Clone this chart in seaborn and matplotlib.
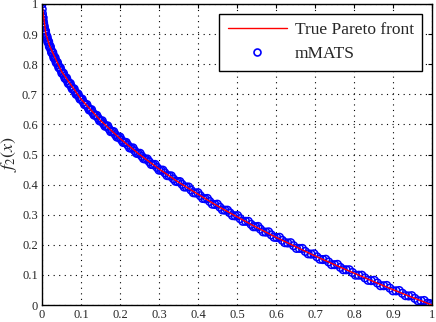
import numpy as np
import pandas as pd
import matplotlib
matplotlib.use("Agg")
import matplotlib.pyplot as plt
from matplotlib.lines import Line2D
import seaborn as sns

# ── Data ──────────────────────────────────────────────────────────
front_f1 = [0.00, 0.01, 0.02, 0.05, 0.10, 0.15, 0.20, 0.25, 0.30, 0.35, 0.40,
            0.45, 0.50, 0.55, 0.60, 0.65, 0.70, 0.75, 0.80, 0.85, 0.90, 0.95, 1.00]
front_f2 = [1.000, 0.900, 0.859, 0.776, 0.684, 0.613, 0.553, 0.500, 0.452, 0.408,
            0.368, 0.329, 0.293, 0.258, 0.225, 0.194, 0.163, 0.134, 0.106, 0.078,
            0.051, 0.025, 0.000]

# mMATS solutions (first batch, close to the front)
mmats_f1 = [0.000, 0.001, 0.002, 0.003, 0.004, 0.005, 0.006, 0.008, 0.010, 0.012,
            0.014, 0.016, 0.018, 0.020, 0.023, 0.026, 0.029, 0.032, 0.035, 0.038,
            0.041, 0.045, 0.049, 0.053, 0.057, 0.061, 0.065, 0.070, 0.075, 0.080,
            0.085, 0.090, 0.095, 0.100, 0.106, 0.112, 0.118, 0.124, 0.130, 0.137,
            0.144, 0.151, 0.158, 0.165, 0.172, 0.180, 0.188, 0.196, 0.204, 0.212,
            0.220, 0.229, 0.238, 0.247, 0.256, 0.265, 0.275, 0.285, 0.295, 0.305,
            0.315, 0.326, 0.337, 0.348, 0.359, 0.370, 0.382, 0.394, 0.406, 0.418,
            0.430, 0.443, 0.456, 0.469, 0.482, 0.495, 0.508, 0.522, 0.536, 0.548,
            0.560, 0.574, 0.588, 0.602, 0.616, 0.630, 0.645, 0.660, 0.675, 0.690,
            0.705, 0.720, 0.735, 0.750, 0.765, 0.780, 0.796, 0.812, 0.828, 0.844,
            0.860, 0.876, 0.892, 0.908, 0.924, 0.940, 0.956, 0.972, 0.988, 1.000]
mmats_f2 = [1.000, 0.968, 0.955, 0.945, 0.937, 0.929, 0.923, 0.911, 0.900, 0.890,
            0.882, 0.874, 0.866, 0.859, 0.848, 0.839, 0.830, 0.821, 0.813, 0.805,
            0.798, 0.788, 0.779, 0.770, 0.761, 0.753, 0.745, 0.735, 0.726, 0.717,
            0.708, 0.700, 0.692, 0.684, 0.674, 0.665, 0.656, 0.648, 0.639, 0.630,
            0.621, 0.611, 0.602, 0.594, 0.585, 0.576, 0.566, 0.557, 0.548, 0.540,
            0.531, 0.521, 0.512, 0.503, 0.494, 0.485, 0.476, 0.466, 0.457, 0.448,
            0.439, 0.429, 0.419, 0.410, 0.401, 0.392, 0.382, 0.372, 0.363, 0.353,
            0.344, 0.334, 0.325, 0.315, 0.306, 0.296, 0.287, 0.278, 0.268, 0.260,
            0.252, 0.242, 0.233, 0.224, 0.215, 0.206, 0.197, 0.188, 0.178, 0.169,
            0.160, 0.151, 0.143, 0.134, 0.125, 0.117, 0.108, 0.099, 0.090, 0.081,
            0.073, 0.064, 0.056, 0.047, 0.039, 0.030, 0.022, 0.014, 0.006, 0.000]

# mMATS solutions (second batch, slightly scattered around the front)
mmats2_f1 = [0.0005, 0.0015, 0.0025, 0.007, 0.009, 0.011, 0.013, 0.015, 0.017, 0.019,
             0.0215, 0.0245, 0.0275, 0.0305, 0.0335, 0.0365, 0.0395, 0.043, 0.047, 0.051,
             0.055, 0.059, 0.063, 0.0675, 0.0725, 0.0775, 0.0825, 0.0875, 0.0925, 0.0975,
             0.103, 0.109, 0.115, 0.121, 0.127, 0.1335, 0.1405, 0.1475, 0.1545, 0.1615,
             0.1685, 0.176, 0.184, 0.192, 0.200, 0.208, 0.216, 0.2245, 0.2335, 0.2425,
             0.2515, 0.2605, 0.270, 0.280, 0.290, 0.300, 0.310, 0.3205, 0.3315, 0.3425,
             0.3535, 0.3645, 0.376, 0.388, 0.400, 0.412, 0.424, 0.4365, 0.4495, 0.4625,
             0.4755, 0.4885, 0.5015, 0.515, 0.529, 0.542, 0.554, 0.567, 0.581, 0.595,
             0.609, 0.623, 0.6375, 0.6525, 0.6675, 0.6825, 0.6975, 0.7125, 0.7275, 0.7425,
             0.7575, 0.7725, 0.788, 0.804, 0.820, 0.836, 0.852, 0.868, 0.884, 0.900,
             0.916, 0.932, 0.948, 0.964, 0.980, 0.994]
mmats2_f2 = [0.983, 0.957, 0.955, 0.912, 0.910, 0.891, 0.891, 0.874, 0.875, 0.858,
             0.858, 0.839, 0.839, 0.821, 0.822, 0.805, 0.806, 0.789, 0.788, 0.770,
             0.770, 0.753, 0.754, 0.736, 0.736, 0.718, 0.718, 0.700, 0.701, 0.684,
             0.684, 0.666, 0.666, 0.648, 0.649, 0.631, 0.630, 0.612, 0.612, 0.594,
             0.595, 0.576, 0.576, 0.558, 0.558, 0.540, 0.540, 0.522, 0.522, 0.504,
             0.504, 0.486, 0.485, 0.467, 0.467, 0.448, 0.448, 0.430, 0.429, 0.411,
             0.410, 0.392, 0.392, 0.373, 0.373, 0.354, 0.354, 0.335, 0.335, 0.316,
             0.315, 0.297, 0.297, 0.278, 0.278, 0.260, 0.261, 0.243, 0.243, 0.225,
             0.225, 0.207, 0.207, 0.188, 0.188, 0.170, 0.170, 0.152, 0.152, 0.134,
             0.135, 0.117, 0.117, 0.099, 0.099, 0.082, 0.082, 0.064, 0.065, 0.047,
             0.048, 0.031, 0.031, 0.014, 0.015, 0.005]

tick_vals = [0, 0.1, 0.2, 0.3, 0.4, 0.5, 0.6, 0.7, 0.8, 0.9, 1]
tick_labels = ["0", "0.1", "0.2", "0.3", "0.4", "0.5", "0.6", "0.7", "0.8", "0.9", "1"]

# ── Style ─────────────────────────────────────────────────────────
sns.set_style("white")
plt.rcParams.update({
    "font.family": ["Liberation Serif", "DejaVu Serif"],
    "mathtext.fontset": "stix",
    "xtick.direction": "in",
    "ytick.direction": "in",
})

front = pd.DataFrame({"f1": front_f1, "f2": front_f2})
mmats = pd.DataFrame({"f1": mmats_f1 + mmats2_f1, "f2": mmats_f2 + mmats2_f2})

fig = plt.figure(figsize=(4.36, 3.22), dpi=100)
ax = fig.add_axes([42 / 436, 17 / 322, 390 / 436, 301 / 322])

sns.lineplot(data=front, x="f1", y="f2", color="red", linewidth=1.0,
             ax=ax, sort=False)
sns.scatterplot(data=mmats, x="f1", y="f2", marker="o", s=30,
                facecolors="none", edgecolors="blue", linewidths=1.1, ax=ax)

ax.set_xlim(0, 1)
ax.set_ylim(0, 1)
ax.set_xticks(tick_vals)
ax.set_xticklabels(tick_labels)
ax.set_yticks(tick_vals)
ax.set_yticklabels(tick_labels)
ax.tick_params(labelsize=9, length=3, width=0.8, color="black",
               top=True, right=True, pad=3)
ax.grid(True, color="black", linestyle=(0, (1, 4)), linewidth=0.8)
for sp in ax.spines.values():
    sp.set_color("black")
    sp.set_linewidth(1.0)

ax.set_xlabel("")
ax.set_ylabel("$f_2(x)$", fontsize=13, labelpad=2)

handles = [
    Line2D([0], [0], color="red", linewidth=1.0, label="True Pareto front"),
    Line2D([0], [0], marker="o", color="none", markerfacecolor="none",
           markeredgecolor="blue", markeredgewidth=1.2, markersize=5,
           label="mMATS"),
]
leg = ax.legend(handles=handles, loc="upper right", fontsize=12.5,
                frameon=True, fancybox=False, edgecolor="black",
                framealpha=1, borderaxespad=0.55, handlelength=3.4,
                handletextpad=0.46, borderpad=0.5, labelspacing=0.44)
leg.get_frame().set_linewidth(1.0)

fig.savefig("out.png", dpi=100)
